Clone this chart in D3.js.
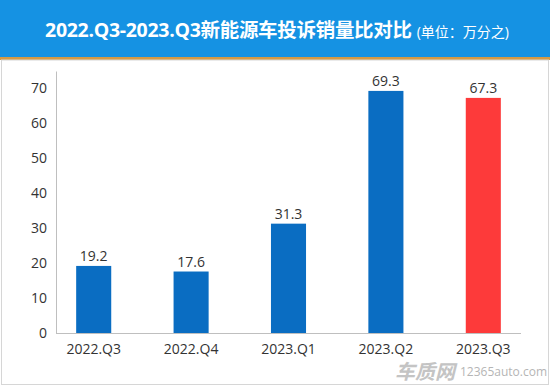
<!DOCTYPE html>
<html>
<head>
<meta charset="utf-8">
<script src="https://cdn.jsdelivr.net/npm/d3@7"></script>
<style>
  body { margin: 0; background: #fff; }
  svg { display: block; font-family: 'Open Sans', 'Noto Sans CJK SC', sans-serif; }
</style>
</head>
<body>
<div id="chart"></div>
<script>
const quarters = ['2022.Q3', '2022.Q4', '2023.Q1', '2023.Q2', '2023.Q3']
const ratios = [19.2, 17.6, 31.3, 69.3, 67.3]
const yTicks = [0, 10, 20, 30, 40, 50, 60, 70]

const width = 550
const height = 386

const svg = d3
  .select('#chart')
  .append('svg')
  .attr('width', width)
  .attr('height', height)

// header band
svg.append('rect')
  .attr('x', 0).attr('y', 0)
  .attr('width', width).attr('height', 57)
  .attr('fill', '#1592e3')
svg.append('rect')
  .attr('x', 0).attr('y', 57)
  .attr('width', width).attr('height', 3)
  .attr('fill', '#d49a45')

// body border
svg.append('rect')
  .attr('x', 1.5).attr('y', 60)
  .attr('width', width - 3).attr('height', height - 61.5)
  .attr('fill', 'none')
  .attr('stroke', '#d6d6d6')

const title = svg.append('text')
  .attr('x', 277)
  .attr('y', 37)
  .attr('text-anchor', 'middle')
  .attr('fill', '#fff')
title.append('tspan')
  .attr('font-size', 19.5)
  .attr('font-weight', 'bold')
  .attr('letter-spacing', -0.3)
  .text('2022.Q3-2023.Q3新能源车投诉销量比对比')
title.append('tspan')
  .attr('font-size', 14)
  .attr('dx', 5)
  .text('(单位：万分之)')

const xPositionScale = d3.scaleBand()
  .domain(quarters)
  .range([45, 532])
  .paddingInner(0.64)
  .paddingOuter(0.32)

const yPositionScale = d3.scaleLinear()
  .domain([0, 75])
  .range([333, 71])

const yAxis = d3.axisLeft(yPositionScale)
  .tickValues(yTicks)
  .tickSize(0)
  .tickPadding(9)

svg.append('g')
  .attr('class', 'axis y-axis')
  .attr('transform', 'translate(56,0)')
  .call(yAxis)
  .call(g => g.select('.domain').attr('stroke', '#bfbfbf'))
  .selectAll('text')
  .attr('font-size', 14)
  .attr('fill', '#333')
  .attr('font-family', 'Open Sans, sans-serif')

// x baseline
svg.append('line')
  .attr('x1', 56).attr('x2', 521)
  .attr('y1', 333.5).attr('y2', 333.5)
  .attr('stroke', '#bfbfbf')

svg.selectAll('.bar')
  .data(ratios)
  .enter()
  .append('rect')
  .attr('class', 'bar')
  .attr('x', (d, i) => xPositionScale(quarters[i]))
  .attr('y', d => yPositionScale(d))
  .attr('width', xPositionScale.bandwidth())
  .attr('height', d => yPositionScale(0) - yPositionScale(d))
  .attr('fill', (d, i) => i === quarters.length - 1 ? '#fd3a3a' : '#0a6dc2')

svg.selectAll('.value')
  .data(ratios)
  .enter()
  .append('text')
  .attr('class', 'value')
  .attr('x', (d, i) => xPositionScale(quarters[i]) + xPositionScale.bandwidth() / 2)
  .attr('y', d => yPositionScale(d) - 5)
  .attr('text-anchor', 'middle')
  .attr('font-size', 14)
  .attr('fill', '#333')
  .text(d => d)

svg.selectAll('.cat')
  .data(quarters)
  .enter()
  .append('text')
  .attr('class', 'cat')
  .attr('x', d => xPositionScale(d) + xPositionScale.bandwidth() / 2)
  .attr('y', 354)
  .attr('text-anchor', 'middle')
  .attr('font-size', 14)
  .attr('fill', '#333')
  .text(d => d)

// watermark
svg.append('text')
  .attr('x', 455).attr('y', 379)
  .attr('text-anchor', 'end')
  .attr('font-size', 20)
  .attr('font-weight', 'bold')
  .attr('font-style', 'italic')
  .attr('fill', '#c4c4c4')
  .attr('font-family', 'Noto Sans CJK SC, sans-serif')
  .text('车质网')
svg.append('text')
  .attr('x', 460).attr('y', 376)
  .attr('font-size', 12)
  .attr('fill', '#b5b5b5')
  .text('12365auto.com')
</script>
</body>
</html>
